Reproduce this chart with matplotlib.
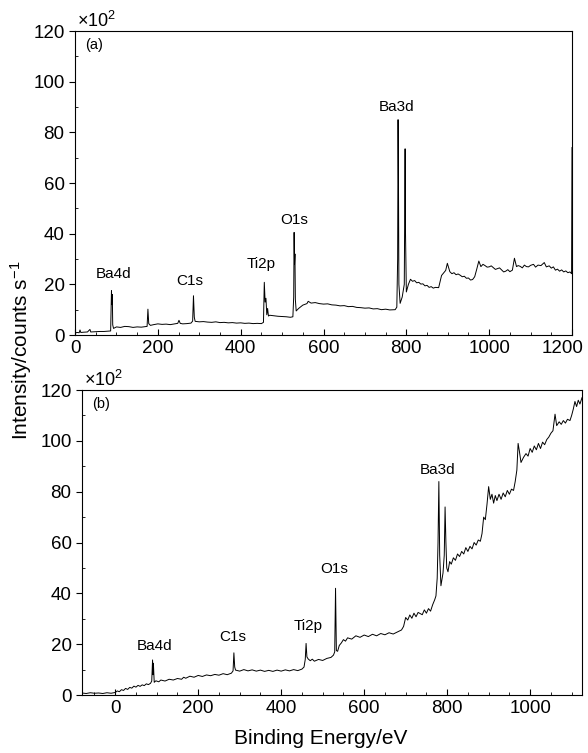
import matplotlib
matplotlib.use('Agg')
import matplotlib.pyplot as plt
import matplotlib.transforms as mtrans
from matplotlib.ticker import MultipleLocator

# fonte parecida com Helvetica
plt.rcParams['font.family'] = ['Liberation Sans', 'DejaVu Sans']
plt.rcParams['mathtext.fontset'] = 'custom'
plt.rcParams['mathtext.rm'] = 'Liberation Sans'
plt.rcParams['mathtext.it'] = 'Liberation Sans:italic'

# espectro (a): energia de ligacao (eV) e intensidade (x10^2 counts/s)
energia_a = [0, 5, 10, 12, 14, 20, 30, 36, 38, 50, 60, 70, 80, 86, 88, 89, 90, 91, 93,
             100, 110, 120, 130, 140, 150, 160, 170, 174, 176, 178, 182, 190, 200, 210,
             220, 230, 240, 248, 251, 254, 260, 270, 280, 284, 286, 288, 290, 300, 310,
             320, 330, 340, 350, 360, 370, 380, 390, 400, 410, 420, 430, 440, 450, 455,
             457, 459, 461, 463, 465, 467, 470, 480, 490, 500, 510, 520, 526, 528, 529,
             530, 531, 532, 534, 540, 550, 560, 563, 570, 580, 590, 600, 610, 620, 630,
             640, 650, 660, 670, 680, 690, 700, 710, 720, 730, 740, 750, 760, 773, 777,
             779, 780, 781, 782, 785, 790, 795, 797, 798, 800, 805, 810, 815, 820, 825,
             830, 835, 840, 845, 850, 855, 860, 865, 870, 878, 885, 890, 895, 899, 905,
             910, 915, 920, 925, 930, 935, 940, 945, 950, 955, 960, 965, 970, 975, 980,
             985, 990, 995, 1000, 1005, 1010, 1015, 1020, 1025, 1030, 1035, 1040, 1045,
             1050, 1056, 1061, 1066, 1070, 1075, 1080, 1085, 1090, 1095, 1100, 1107,
             1112, 1118, 1125, 1133, 1138, 1145, 1150, 1155, 1160, 1165, 1170, 1175,
             1180, 1185, 1190, 1195, 1199, 1200]
intens_a = [0.8, 1.0, 0.9, 2.0, 1.0, 1.1, 1.2, 2.2, 1.2, 1.3, 1.4, 1.4, 1.5, 1.6, 17.5, 12.0,
            16.0, 4.0, 2.6, 3.2, 3.0, 3.4, 3.3, 3.0, 3.2, 3.1, 3.3, 3.4, 10.2, 4.5, 3.8,
            4.1, 4.4, 4.2, 4.3, 4.1, 4.4, 4.6, 5.8, 4.6, 4.4, 4.5, 4.7, 5.5, 15.5, 7.0,
            5.4, 5.2, 5.3, 5.1, 5.0, 5.2, 4.9, 5.0, 4.8, 4.9, 4.7, 4.8, 4.6, 4.7, 4.5,
            4.6, 4.5, 5.0, 20.8, 13.0, 14.5, 8.0, 10.5, 7.5, 7.8, 7.6, 7.4, 7.3, 7.2,
            7.0, 7.2, 15.0, 40.5, 28.0, 32.0, 14.0, 9.5, 10.5, 11.8, 12.4, 13.3, 12.6,
            12.8, 12.4, 12.2, 12.3, 11.9, 11.8, 11.5, 11.6, 11.2, 11.3, 10.9, 10.8, 10.6,
            10.7, 10.3, 10.4, 10.0, 10.2, 9.9, 10.0, 11.0, 30.0, 85.0, 60.0, 20.0, 12.5,
            15.0, 20.0, 73.5, 40.0, 17.0, 20.0, 22.0, 21.2, 21.5, 20.6, 20.8, 20.1, 20.2,
            19.4, 19.6, 18.8, 19.1, 18.5, 18.8, 18.7, 23.5, 24.5, 25.5, 28.3, 25.0, 24.2,
            24.6, 23.8, 24.1, 23.6, 23.0, 23.2, 22.4, 22.5, 21.7, 21.9, 23.0, 26.0, 29.2,
            27.0, 27.9, 27.4, 26.8, 26.9, 27.3, 26.6, 25.9, 26.2, 26.5, 25.7, 24.9, 25.2,
            25.8, 25.0, 25.6, 30.3, 27.0, 27.4, 27.1, 26.5, 27.6, 27.0, 26.9, 27.5, 27.9,
            26.8, 27.6, 27.4, 28.6, 26.9, 27.3, 26.4, 26.9, 25.6, 26.0, 25.2, 25.7, 24.9,
            25.3, 24.6, 24.9, 24.2, 74.0]

# espectro (b)
energia_b = [-80, -70, -60, -50, -40, -30, -20, -10, 0, 5, 10, 15, 20, 25, 30, 35, 40, 45,
             50, 55, 60, 65, 70, 75, 80, 85, 88, 90, 91, 92, 94, 98, 105, 110, 120, 130,
             140, 150, 160, 165, 170, 180, 190, 200, 210, 220, 230, 240, 250, 260, 270,
             280, 284, 286, 288, 290, 300, 310, 320, 330, 340, 350, 360, 370, 380, 390,
             400, 410, 420, 430, 440, 450, 455, 458, 460, 462, 465, 470, 475, 480, 490,
             500, 510, 520, 526, 529, 531, 533, 536, 540, 545, 550, 555, 560, 570, 580,
             590, 600, 610, 620, 630, 640, 650, 660, 670, 680, 690, 695, 700, 705, 710,
             715, 720, 725, 730, 740, 745, 750, 755, 760, 765, 770, 773, 776, 778, 780,
             782, 785, 788, 790, 793, 795, 797, 799, 802, 806, 810, 815, 820, 825, 830,
             835, 840, 845, 850, 855, 860, 865, 870, 875, 880, 884, 888, 892, 896, 900,
             904, 908, 912, 916, 920, 925, 930, 935, 940, 945, 950, 955, 960, 964, 968,
             971, 974, 978, 984, 990, 995, 1000, 1005, 1010, 1015, 1020, 1025, 1030,
             1035, 1040, 1045, 1050, 1055, 1060, 1064, 1070, 1075, 1080, 1085, 1090,
             1096, 1100, 1104, 1108, 1112, 1116, 1120, 1125]
intens_b = [0.8, 0.6, 0.9, 0.7, 0.8, 0.6, 0.9, 0.7, 1.0, 1.6, 1.3, 2.1, 1.8, 2.6, 2.2, 3.0,
            2.7, 3.5, 3.1, 3.8, 3.4, 4.0, 3.7, 4.4, 4.1, 4.6, 5.5, 13.8, 8.0, 12.5, 5.0,
            5.6, 5.2, 5.9, 5.5, 6.2, 5.9, 6.5, 6.2, 7.0, 6.6, 7.4, 7.0, 7.7, 7.3, 7.9, 7.6,
            8.1, 7.8, 8.4, 8.0, 8.6, 9.5, 16.6, 11.0, 9.8, 9.4, 10.0, 9.5, 9.9, 9.4, 9.8,
            9.3, 9.7, 9.3, 9.8, 9.4, 9.9, 9.5, 10.0, 9.6, 10.2, 11.0, 14.0, 20.3, 15.0,
            14.2, 13.5, 14.1, 13.3, 14.0, 13.6, 14.4, 14.8, 15.7, 17.0, 42.0, 17.5, 17.2,
            19.5, 20.5, 21.8, 21.2, 22.5, 22.0, 23.3, 22.7, 23.6, 23.0, 23.9, 23.3, 24.2,
            23.7, 24.5, 24.0, 24.8, 25.6, 27.0, 30.5, 29.5, 31.5, 30.2, 32.2, 30.8, 32.5,
            31.6, 33.5, 32.2, 34.0, 33.0, 35.5, 37.5, 39.0, 46.0, 60.0, 84.0, 55.0, 43.0,
            46.0, 48.0, 55.0, 74.0, 60.0, 50.0, 48.5, 52.5, 51.5, 54.0, 53.0, 55.5, 54.5,
            56.5, 55.5, 58.0, 56.5, 58.5, 57.5, 60.0, 59.0, 61.0, 60.5, 63.5, 70.0, 69.0,
            75.0, 82.0, 77.0, 79.0, 75.5, 78.5, 76.5, 79.0, 77.0, 79.5, 78.0, 80.5, 79.0,
            81.0, 80.5, 84.0, 88.5, 99.0, 96.0, 91.5, 93.5, 95.0, 94.0, 97.0, 95.5, 98.0,
            96.5, 99.0, 97.0, 99.5, 98.5, 100.5, 101.5, 103.0, 104.0, 110.5, 106.0, 107.5,
            106.5, 108.0, 107.0, 108.5, 108.0, 110.0, 112.5, 115.5, 113.5, 116.0, 114.5,
            117.0]

# rotulos dos picos: (texto, energia, intensidade)
picos_a = [('Ba4d', 92, 24), ('C1s', 278, 21.4), ('Ti2p', 449, 28),
           ('O1s', 529, 45.5), ('Ba3d', 776, 90)]
picos_b = [('Ba4d', 96, 19.3), ('C1s', 284, 23), ('Ti2p', 465, 27),
           ('O1s', 528, 49.6), ('Ba3d', 776, 88.5)]

fig = plt.figure(figsize=(5.88, 7.53), dpi=100)
ax_a = fig.add_axes([0.1276, 0.5551, 0.8452, 0.4037])
ax_b = fig.add_axes([0.1395, 0.0770, 0.8503, 0.4050])


def arruma_eixo(ax, energia, intens, picos, letra, xlim, xmaj, xmin):
    ax.plot(energia, intens, color='black', linewidth=0.7)
    ax.set_xlim(*xlim)
    ax.set_ylim(0, 120)
    ax.xaxis.set_major_locator(MultipleLocator(xmaj))
    ax.xaxis.set_minor_locator(MultipleLocator(xmin))
    ax.yaxis.set_major_locator(MultipleLocator(20))
    ax.yaxis.set_minor_locator(MultipleLocator(10))
    ax.tick_params(axis='both', which='major', labelsize=13.5, length=4, width=0.8)
    ax.tick_params(axis='x', which='both', direction='in')
    ax.tick_params(axis='y', which='major', direction='out')
    ax.tick_params(axis='y', which='minor', direction='in', length=2.5)
    ax.tick_params(axis='x', which='minor', length=2.5)
    for s in ax.spines.values():
        s.set_linewidth(0.8)
    for texto, e, v in picos:
        ax.text(e, v, texto, fontsize=11, ha='center', va='center')
    ax.text(0.02, 0.955, letra, transform=ax.transAxes, fontsize=10.5,
            ha='left', va='center')
    ax.text(0.003, 1.0, r'$\mathregular{\times10^2}$', transform=ax.transAxes,
            fontsize=13, ha='left', va='bottom')


arruma_eixo(ax_a, energia_a, intens_a, picos_a, '(a)', (0, 1200), 200, 50)
arruma_eixo(ax_b, energia_b, intens_b, picos_b, '(b)', (-80, 1125), 200, 50)

# rotulos dos eixos
fig.text(21 / 588, 1 - 350 / 753, r'Intensity/counts s$^{-1}$', rotation=90,
         fontsize=15, ha='center', va='center')
fig.text(321 / 588, 1 - 738 / 753, 'Binding Energy/eV', fontsize=15,
         ha='center', va='center')

# o rotulo 1200 fica um pouco para a esquerda, como no original
fig.canvas.draw()
for lab in ax_a.get_xticklabels():
    if lab.get_text() == '1200':
        lab.set_transform(lab.get_transform() +
                          mtrans.ScaledTranslation(-7 / 72, 0, fig.dpi_scale_trans))

fig.savefig('out.png', dpi=100)
